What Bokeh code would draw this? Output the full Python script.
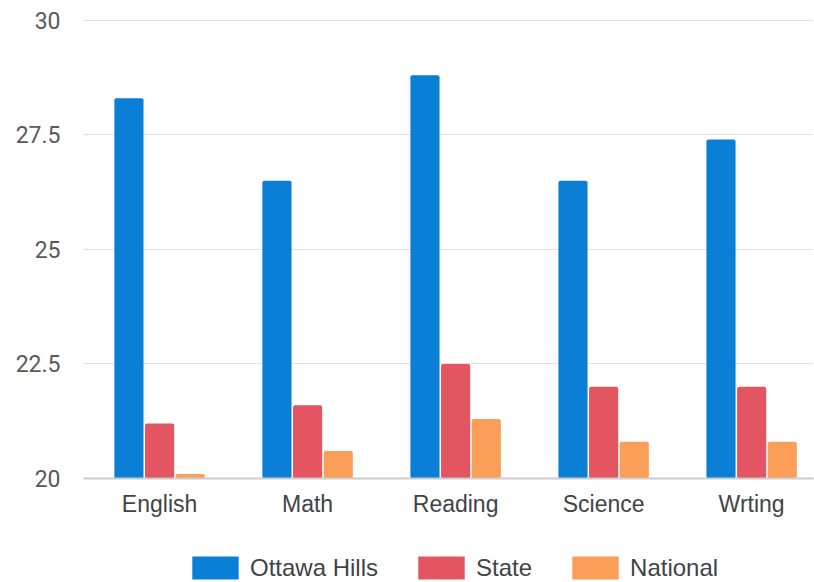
from bokeh.plotting import figure
from bokeh.models import ColumnDataSource, Legend, LegendItem, Range1d, FixedTicker
from bokeh.layouts import column
from bokeh.transform import dodge
from bokeh.embed import file_html
from bokeh.resources import INLINE

categories = ["English", "Math", "Reading", "Science", "Wrting"]
ottawa_hills = [28.3, 26.5, 28.8, 26.5, 27.4]
state = [21.2, 21.6, 22.5, 22.0, 22.0]
national = [20.1, 20.6, 21.3, 20.8, 20.8]
series_names = ["Ottawa Hills", "State", "National"]
y_ticks = [20, 22.5, 25, 27.5, 30]

colors = ["#0b7fd5", "#e35561", "#fb9e58"]

idx = list(range(len(categories)))
source = ColumnDataSource(data=dict(x=idx, cat=categories, oh=ottawa_hills, st=state, na=national))

p = figure(x_range=Range1d(-0.514, 4.418), y_range=Range1d(20, 30.04),
           width=814, height=530, output_backend="svg", toolbar_location=None,
           min_border_left=83, min_border_right=1, min_border_top=18, min_border_bottom=52)

offsets = [-0.207, 0.0, 0.207]
fields = ["oh", "st", "na"]
for f, off, c in zip(fields, offsets, colors):
    p.vbar(x=dodge("x", off), top=f, bottom=20, width=0.197,
           source=source, fill_color=c, line_color=None, border_radius=2)

p.outline_line_color = None
p.xgrid.grid_line_color = None
p.ygrid.grid_line_color = "#e2e2e2"
p.ygrid.grid_line_width = 1
p.yaxis.ticker = FixedTicker(ticks=y_ticks)
p.yaxis.major_label_overrides = {20: "20", 22.5: "22.5", 25: "25", 27.5: "27.5", 30: "30"}
p.yaxis.axis_line_color = None
p.yaxis.major_tick_line_color = None
p.yaxis.minor_tick_line_color = None
p.yaxis.major_tick_out = 0
p.yaxis.minor_tick_out = 0
p.yaxis.major_label_text_font = "Roboto"
p.yaxis.major_label_text_font_size = "23px"
p.yaxis.major_label_text_color = "#5a5a5a"
p.yaxis.major_label_standoff = 23

p.xaxis.ticker = FixedTicker(ticks=idx)
p.xaxis.major_label_overrides = {i: c for i, c in zip(idx, categories)}
p.xaxis.axis_line_color = "#cccccc"
p.xaxis.axis_line_width = 2
p.xaxis.major_tick_line_color = None
p.xaxis.minor_tick_line_color = None
p.xaxis.major_tick_out = 0
p.xaxis.minor_tick_out = 0
p.xaxis.major_label_text_font = "Liberation Sans"
p.xaxis.major_label_text_font_size = "23px"
p.xaxis.major_label_text_color = "#3f4447"
p.xaxis.major_label_standoff = 12

# legend strip
lg = figure(width=814, height=52, output_backend="svg", toolbar_location=None,
            x_range=Range1d(0, 1), y_range=Range1d(0, 1),
            x_axis_location=None, y_axis_location=None,
            min_border_left=83, min_border_right=1, min_border_top=0, min_border_bottom=0)
lg.grid.visible = False
lg.outline_line_color = None
swatches = []
for c in colors:
    swatches.append(lg.vbar(x=[-5], top=[-5], bottom=[-6], width=0.1, fill_color=c, line_color=None,
                            border_radius=2))

legend = Legend(items=[LegendItem(label=n, renderers=[r]) for n, r in zip(series_names, swatches)],
                orientation="horizontal", location=(103, 0),
                glyph_width=58, glyph_height=29, label_standoff=6, spacing=34,
                label_text_font="Liberation Sans", label_text_font_size="24px",
                label_text_color="#3f4447", border_line_color=None,
                background_fill_alpha=0, margin=0, padding=0)
lg.add_layout(legend, "center")

layout = column(p, lg, spacing=0)
open("out.html", "w").write(file_html(layout, INLINE))
